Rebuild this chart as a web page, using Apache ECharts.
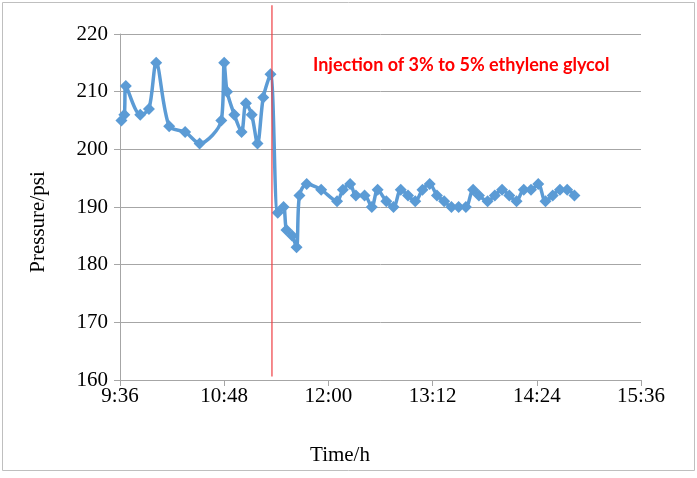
<!DOCTYPE html>
<html><head><meta charset="utf-8">
<script src="https://cdn.jsdelivr.net/npm/echarts@6/dist/echarts.min.js"></script>
<style>html,body{margin:0;padding:0;background:#fff}#c{width:697px;height:478px}</style>
</head><body><div id="c"></div>
<script>
const times = ["9:37","9:39","9:40","9:50","9:56","10:01","10:10","10:21","10:31","10:46","10:48","10:50","10:55","11:00","11:03","11:07","11:11","11:15","11:20","11:25","11:29","11:31","11:35","11:38","11:40","11:45","11:55","12:06","12:10","12:15","12:19","12:25","12:30","12:34","12:40","12:45","12:50","12:55","13:00","13:05","13:10","13:15","13:20","13:25","13:30","13:35","13:40","13:44","13:50","13:55","14:00","14:05","14:10","14:15","14:20","14:25","14:30","14:35","14:40","14:45","14:50"];
const pressure = [205,206,211,206,207,215,204,203,201,205,215,210,206,203,208,206,201,209,213,189,190,186,185,183,192,194,193,191,193,194,192,192,190,193,191,190,193,192,191,193,194,192,191,190,190,190,193,192,191,192,193,192,191,193,193,194,191,192,193,193,192];
const injectionTime = "11:21";
const injectionRange = [160.6, 225];
const annotation = "Injection of 3% to 5% ethylene glycol";
const xTickStart = "9:36", xTickEnd = "15:36", xTickStep = 72;
const yMin = 160, yMax = 220, yStep = 10;

function toMin(s){const p=s.split(':');return (+p[0])*60+(+p[1]);}
function fmt(m){const h=Math.floor(m/60), mm=Math.round(m-h*60);return h+':'+(mm<10?'0':'')+mm;}

const chart = echarts.init(document.getElementById('c'));
const serif = '"Liberation Serif","Times New Roman",serif';
chart.setOption({
  animation:false,
  backgroundColor:'#fff',
  grid:{left:120,right:56,top:34,bottom:98},
  xAxis:{type:'value',min:toMin(xTickStart),max:toMin(xTickEnd),interval:xTickStep,
    axisLine:{lineStyle:{color:'#A6A6A6',width:1}},
    axisTick:{show:true,length:6,lineStyle:{color:'#A6A6A6'}},
    splitLine:{show:false},
    axisLabel:{formatter:v=>fmt(v),color:'#000',fontFamily:serif,fontSize:21,margin:6}},
  yAxis:{type:'value',min:yMin,max:yMax,interval:yStep,
    axisLine:{show:true,lineStyle:{color:'#A6A6A6',width:1}},
    axisTick:{show:true,length:6,lineStyle:{color:'#A6A6A6'}},
    splitLine:{lineStyle:{color:'#A6A6A6',width:1}},
    axisLabel:{color:'#000',fontFamily:serif,fontSize:21,margin:12}},
  graphic:[
    {type:'rect',shape:{x:2.5,y:2.5,width:692,height:468},style:{fill:'none',stroke:'#BFBFBF',lineWidth:1},silent:true},
    {type:'text',left:313,top:56,style:{text:annotation,fill:'#FF0000',font:'bold 18px Lato, "Liberation Sans", sans-serif'}},
    {type:'text',x:340,y:455,style:{text:'Time/h',fill:'#000',font:'21px '+serif,textAlign:'center',textVerticalAlign:'middle'}},
    {type:'text',x:38,y:222,rotation:Math.PI/2,style:{text:'Pressure/psi',fill:'#000',font:'21px '+serif,textAlign:'center',textVerticalAlign:'middle'}}
  ],
  series:[
    {type:'line',data:times.map((t,i)=>[toMin(t),pressure[i]]),smooth:0.3,
      symbol:'diamond',symbolSize:12,lineStyle:{color:'#5B9BD5',width:3.5},
      itemStyle:{color:'#5B9BD5'},z:3},
    {type:'line',clip:false,data:injectionRange.map(v=>[toMin(injectionTime),v]),
      symbol:'none',lineStyle:{color:'#EE3D42',width:1.2},z:4}
  ]
});
</script></body></html>
